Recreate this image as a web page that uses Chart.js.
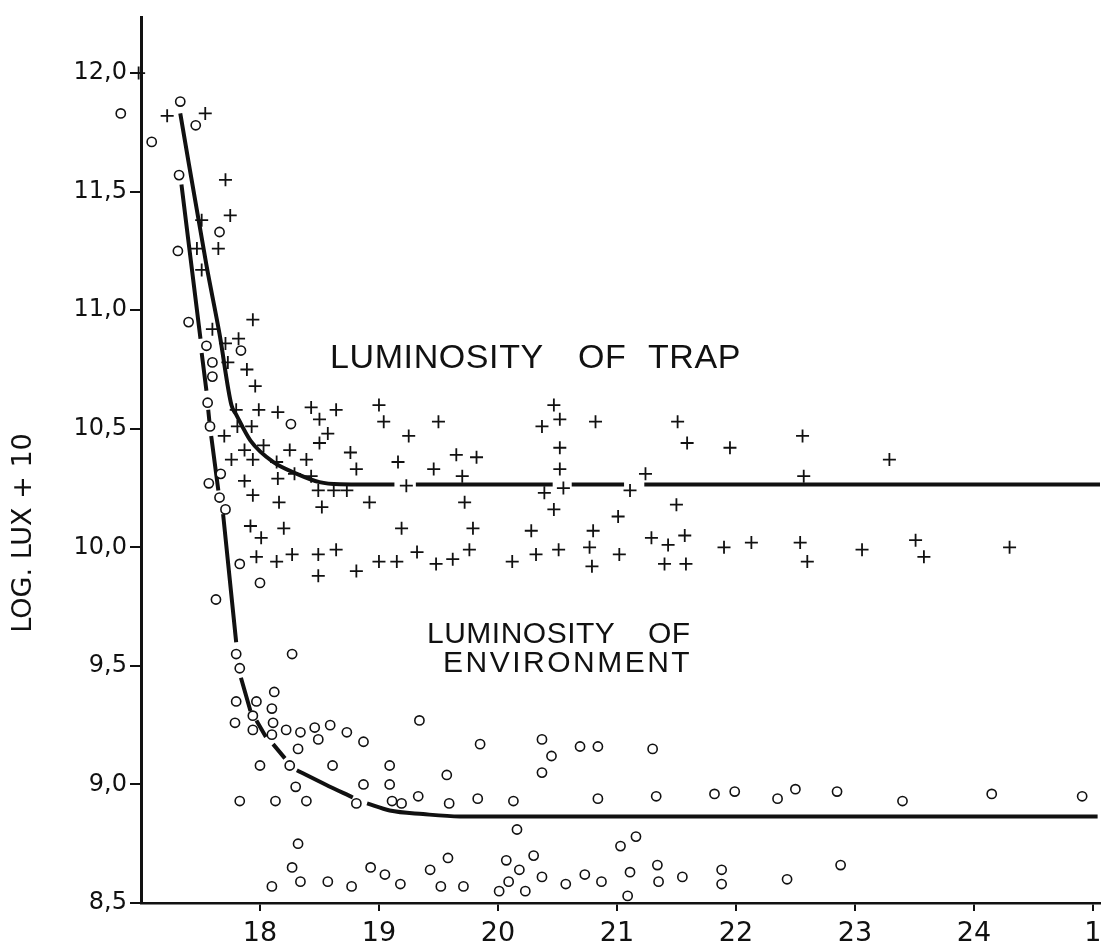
<!DOCTYPE html>
<html lang="en">
<head>
<meta charset="UTF-8">
<title>Luminosity of trap and environment</title>
<script src="https://cdn.jsdelivr.net/npm/chart.js"></script>
<style>
  html, body { margin: 0; padding: 0; background: #fff; }
  canvas { display: block; }
</style>
</head>
<body>
<canvas id="chart" width="1110" height="942"></canvas>
<script>
// hour of day (17..25, where 25 = 1 o'clock) and log lux + 10
const xTickVals = [18, 19, 20, 21, 22, 23, 24, 25];
const xTickLabels = ['18', '19', '20', '21', '22', '23', '24', '1'];
const yTickVals = [8.5, 9.0, 9.5, 10.0, 10.5, 11.0, 11.5, 12.0];

// + : luminosity of trap
const trapX = [16.98, 17.22, 17.54, 17.71, 17.75, 17.51, 17.47, 17.65, 17.51, 17.94,
  17.60, 17.71, 17.82, 17.73, 17.89, 17.96, 17.80, 17.99, 18.15, 18.43,
  18.64, 19.00, 18.50, 19.04, 19.50, 20.47, 20.52, 20.37, 20.82, 17.70,
  17.81, 17.93, 18.57, 18.50, 19.25, 18.03, 17.87, 18.25, 17.76, 17.94,
  18.39, 18.76, 18.14, 19.16, 19.65, 19.82, 20.52, 18.29, 18.43, 18.81,
  19.46, 19.70, 20.52, 17.87, 18.15, 19.23, 20.39, 20.55, 21.11, 17.94,
  18.49, 18.62, 18.73, 18.16, 18.52, 18.92, 19.72, 20.47, 21.01, 17.92,
  18.01, 18.20, 19.19, 19.79, 20.28, 20.80, 17.97, 18.14, 18.27, 18.49,
  18.64, 18.49, 18.81, 19.00, 19.15, 19.32, 19.48, 19.62, 19.76, 20.12,
  20.32, 20.51, 20.77, 20.79, 21.02, 21.51, 21.59, 21.95, 22.56, 22.57,
  23.29, 21.24, 21.50, 21.29, 21.43, 21.57, 21.40, 21.58, 21.90, 22.13,
  22.54, 22.60, 23.06, 23.51, 23.58, 24.30];
const trapY = [12.00, 11.82, 11.83, 11.55, 11.40, 11.38, 11.26, 11.26, 11.17, 10.96,
  10.92, 10.86, 10.88, 10.78, 10.75, 10.68, 10.58, 10.58, 10.57, 10.59,
  10.58, 10.60, 10.54, 10.53, 10.53, 10.60, 10.54, 10.51, 10.53, 10.47,
  10.51, 10.51, 10.48, 10.44, 10.47, 10.43, 10.41, 10.41, 10.37, 10.37,
  10.37, 10.40, 10.36, 10.36, 10.39, 10.38, 10.42, 10.31, 10.30, 10.33,
  10.33, 10.30, 10.33, 10.28, 10.29, 10.26, 10.23, 10.25, 10.24, 10.22,
  10.24, 10.24, 10.24, 10.19, 10.17, 10.19, 10.19, 10.16, 10.13, 10.09,
  10.04, 10.08, 10.08, 10.08, 10.07, 10.07, 9.96, 9.94, 9.97, 9.97,
  9.99, 9.88, 9.90, 9.94, 9.94, 9.98, 9.93, 9.95, 9.99, 9.94,
  9.97, 9.99, 10.00, 9.92, 9.97, 10.53, 10.44, 10.42, 10.47, 10.30,
  10.37, 10.31, 10.18, 10.04, 10.01, 10.05, 9.93, 9.93, 10.00, 10.02,
  10.02, 9.94, 9.99, 10.03, 9.96, 10.00];

// o : luminosity of environment
const envX = [16.83, 17.33, 17.46, 17.09, 17.32, 17.66, 17.31, 17.40, 17.55, 17.84,
  17.60, 17.60, 17.56, 18.26, 17.58, 17.67, 17.57, 17.66, 17.71, 17.83,
  18.00, 17.63, 17.80, 18.27, 17.83, 18.12, 17.80, 17.97, 18.10, 17.94,
  17.79, 18.11, 17.94, 18.22, 18.34, 18.46, 18.59, 18.73, 18.10, 18.32,
  18.49, 18.87, 19.34, 18.00, 18.25, 18.61, 19.09, 18.30, 18.87, 19.09,
  19.57, 17.83, 18.13, 18.39, 18.81, 19.11, 19.19, 19.33, 19.59, 19.83,
  20.13, 19.85, 20.37, 20.45, 20.37, 20.69, 20.84, 20.84, 20.16, 18.32,
  21.03, 21.16, 18.27, 18.93, 19.05, 19.43, 19.58, 20.07, 20.30, 20.18,
  20.37, 20.73, 21.11, 18.10, 18.34, 18.57, 18.77, 19.18, 19.52, 19.71,
  20.09, 20.01, 20.23, 20.57, 20.87, 21.09, 21.30, 21.33, 21.82, 21.99,
  22.35, 22.50, 22.85, 23.40, 24.15, 24.91, 21.34, 21.35, 21.55, 21.88,
  21.88, 22.43, 22.88];
const envY = [11.83, 11.88, 11.78, 11.71, 11.57, 11.33, 11.25, 10.95, 10.85, 10.83,
  10.78, 10.72, 10.61, 10.52, 10.51, 10.31, 10.27, 10.21, 10.16, 9.93,
  9.85, 9.78, 9.55, 9.55, 9.49, 9.39, 9.35, 9.35, 9.32, 9.29,
  9.26, 9.26, 9.23, 9.23, 9.22, 9.24, 9.25, 9.22, 9.21, 9.15,
  9.19, 9.18, 9.27, 9.08, 9.08, 9.08, 9.08, 8.99, 9.00, 9.00,
  9.04, 8.93, 8.93, 8.93, 8.92, 8.93, 8.92, 8.95, 8.92, 8.94,
  8.93, 9.17, 9.19, 9.12, 9.05, 9.16, 9.16, 8.94, 8.81, 8.75,
  8.74, 8.78, 8.65, 8.65, 8.62, 8.64, 8.69, 8.68, 8.70, 8.64,
  8.61, 8.62, 8.63, 8.57, 8.59, 8.59, 8.57, 8.58, 8.57, 8.57,
  8.59, 8.55, 8.55, 8.58, 8.59, 8.53, 9.15, 8.95, 8.96, 8.97,
  8.94, 8.98, 8.97, 8.93, 8.96, 8.95, 8.66, 8.59, 8.61, 8.64,
  8.58, 8.60, 8.66];

// hand-drawn curves as traced (null = break in the pen stroke)
const trapCurveX = [17.33, 17.55, 17.66, 17.76, 17.80, 17.92, 18.11, 18.31, 18.50, 18.67,
  18.90, 19.13, 19.22, 19.31, 20.46, 20.54, 20.62, 21.06, 21.15, 21.23, 25.10];
const trapCurveY = [11.83, 11.19, 10.90, 10.60, 10.56, 10.45, 10.36, 10.31, 10.275, 10.266,
  10.265, 10.265, null, 10.265, 10.265, null, 10.265, 10.265, null, 10.265, 10.265];
const envCurveX = [17.34, 17.50, 17.505, 17.51, 17.55, 17.557, 17.565, 17.575, 17.58, 17.59,
  17.65, 17.67, 17.69, 17.80, 17.82, 17.84, 17.92, 17.945, 17.97, 18.05,
  18.08, 18.11, 18.21, 18.26, 18.31, 18.55, 18.78, 18.83, 18.90, 19.09,
  19.37, 19.68, 25.04];
const envCurveY = [11.53, 10.88, null, 10.82, 10.66, null, 10.58, 10.53, null, 10.47,
  10.24, null, 10.14, 9.60, null, 9.45, 9.31, null, 9.27, 9.20,
  null, 9.17, 9.11, null, 9.06, 9.00, 8.945, null, 8.92, 8.89,
  8.875, 8.865, 8.865];

const toPts = (xs, ys) => xs.map((x, i) => ({ x: x, y: ys[i] }));
const ink = '#111';

// let marks just left of the y axis be drawn (v4 skips points outside chartArea)
const wideArea = {
  id: 'wideArea',
  beforeDatasetsDraw(chart) {
    this._left = chart.chartArea.left;
    chart.chartArea.left = 0;
  },
  afterDatasetsDraw(chart) {
    chart.chartArea.left = this._left;
  }
};

// free text on the figure
const textPlugin = {
  id: 'figText',
  afterDraw(chart) {
    const ctx = chart.ctx;
    ctx.save();
    ctx.fillStyle = ink;
    ctx.textBaseline = 'alphabetic';
    ctx.textAlign = 'left';
    ctx.font = '34px "Liberation Sans"';
    ctx.letterSpacing = '0.6px';
    ctx.fillText('LUMINOSITY', 330, 368);
    ctx.fillText('OF', 578, 368);
    ctx.fillText('TRAP', 648, 368);
    ctx.font = '30px "Liberation Sans"';
    ctx.letterSpacing = '0.5px';
    ctx.fillText('LUMINOSITY', 427, 643);
    ctx.fillText('OF', 648, 643);
    ctx.letterSpacing = '2.5px';
    ctx.fillText('ENVIRONMENT', 443, 672);
    // y axis title
    ctx.translate(31, 533);
    ctx.rotate(-Math.PI / 2);
    ctx.textAlign = 'center';
    ctx.font = '27px "DejaVu Sans"';
    ctx.letterSpacing = '0px';
    ctx.fillText('LOG. LUX + 10', 0, 0);
    ctx.restore();
  }
};

new Chart(document.getElementById('chart'), {
  type: 'scatter',
  data: {
    datasets: [
      {
        label: 'trap',
        data: toPts(trapX, trapY),
        pointStyle: 'cross',
        pointRadius: 6.5,
        pointBorderWidth: 1.8,
        borderColor: ink,
        clip: false
      },
      {
        label: 'environment',
        data: toPts(envX, envY),
        pointStyle: 'circle',
        pointRadius: 4.6,
        pointBorderWidth: 1.6,
        borderColor: ink,
        backgroundColor: '#fff',
        clip: false
      },
      {
        type: 'line',
        data: toPts(trapCurveX, trapCurveY),
        borderColor: ink,
        borderWidth: 4,
        pointRadius: 0,
        cubicInterpolationMode: 'monotone',
        spanGaps: false,
        fill: false
      },
      {
        type: 'line',
        data: toPts(envCurveX, envCurveY),
        borderColor: ink,
        borderWidth: 4,
        pointRadius: 0,
        cubicInterpolationMode: 'monotone',
        spanGaps: false,
        fill: false
      }
    ]
  },
  options: {
    responsive: false,
    devicePixelRatio: 1,
    animation: false,
    layout: { padding: { left: 0, right: 10, top: 12, bottom: 0 } },
    plugins: { legend: { display: false }, tooltip: { enabled: false } },
    scales: {
      x: {
        type: 'linear',
        min: 17,
        max: 25.06,
        afterBuildTicks: s => { s.ticks = xTickVals.map(v => ({ value: v })); },
        afterFit: s => { s.height = 39; },
        ticks: {
          callback: v => xTickLabels[xTickVals.indexOf(v)],
          font: { family: 'DejaVu Sans', size: 27 },
          color: ink,
          padding: 7,
          maxRotation: 0,
          autoSkip: false
        },
        grid: { drawOnChartArea: false, tickLength: 8, color: ink, lineWidth: 2 },
        border: { color: ink, width: 2.5 }
      },
      y: {
        min: 8.5,
        max: 12.235,
        afterBuildTicks: s => { s.ticks = yTickVals.map(v => ({ value: v })); },
        afterFit: s => { s.width = 141; },
        ticks: {
          callback: v => v.toFixed(1).replace('.', ','),
          font: { family: 'DejaVu Sans', size: 24 },
          color: ink,
          padding: 3,
          autoSkip: false
        },
        grid: { drawOnChartArea: false, tickLength: 11, color: ink, lineWidth: 2 },
        border: { color: ink, width: 3 }
      }
    }
  },
  plugins: [wideArea, textPlugin]
});
</script>
</body>
</html>
